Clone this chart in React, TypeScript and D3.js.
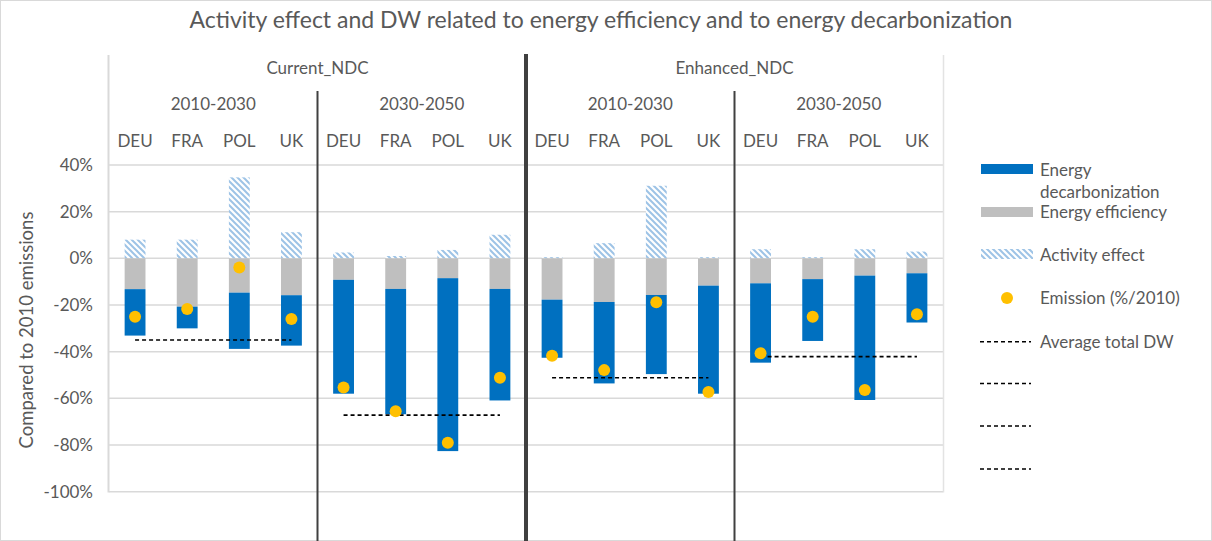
import React from "react";
import * as d3 from "d3";

const scenarios = ["Current_NDC", "Enhanced_NDC"];
const periods = ["2010-2030", "2030-2050"];
const countries = ["DEU", "FRA", "POL", "UK"];

// order: Current 2010-2030, Current 2030-2050, Enhanced 2010-2030, Enhanced 2030-2050 ; each DEU, FRA, POL, UK
const activity = [8, 8, 34.7, 11.2, 2.5, 1, 3.6, 10.1, 0.5, 6.5, 31.1, 0.5, 3.9, 0.5, 3.9, 2.9];
const efficiency = [-13.2, -20.7, -14.7, -15.8, -9.2, -13.1, -8.5, -13.1, -17.7, -18.7, -15.7, -11.7, -10.7, -8.9, -7.4, -6.4];
const decarbonization = [-19.9, -9.3, -24.1, -21.6, -48.8, -53.7, -74.1, -47.8, -24.9, -34.9, -33.9, -46.3, -34, -26.5, -53.3, -21.1];
const emission = [-25, -21.7, -3.9, -26, -55.3, -65.5, -79, -51.2, -41.7, -47.9, -18.8, -57.3, -40.7, -25, -56.4, -24];
const avgTotalDW = [-35, -67.2, -51.2, -42.1];
const yTicks = [40, 20, 0, -20, -40, -60, -80, -100];

const W = 1212;
const H = 541;
const FONT = "Lato, 'Open Sans', sans-serif";
const TXT = "#595959";

export default function App() {
  const keys: string[] = [];
  scenarios.forEach((s) => periods.forEach((p) => countries.forEach((c) => keys.push(`${s}|${p}|${c}`))));

  const x = d3.scaleBand<string>().domain(keys).range([109, 943]).paddingInner(0.6).paddingOuter(0.3);
  const step = x.step();
  const y = d3.scaleLinear().domain([-100, 40]).range([491.7, 165]);
  const bw = x.bandwidth();

  const groupStart = (g: number) => 109 + g * 4 * step;
  const groupCenter = (g: number) => groupStart(g) + 2 * step;

  return (
    <svg width={W} height={H} style={{ position: "absolute", left: 0, top: 0, background: "#fff" }} fontFamily={FONT}>
      <defs>
        <pattern id="hatch" patternUnits="userSpaceOnUse" width="6" height="6">
          <rect width="6" height="6" fill="#fff" />
          <path d="M-1,-1 L7,7 M-1,5 L1,7 M5,-1 L7,1" stroke="#9DC3E6" strokeWidth="2" />
        </pattern>
      </defs>
      <rect x={0.5} y={0.5} width={W - 1} height={H - 1} fill="#fff" stroke="#d9d9d9" />

      <text x={601} y={28} textAnchor="middle" fontSize={23} fill={TXT}>
        Activity effect and DW related to energy efficiency and to energy decarbonization
      </text>

      {/* gridlines */}
      {yTicks.map((t) => (
        <line key={t} x1={109} x2={943} y1={y(t)} y2={y(t)} stroke="#d9d9d9" strokeWidth={1.5} />
      ))}
      {/* plot side lines */}
      <line x1={108.5} x2={108.5} y1={55} y2={492.5} stroke="#d9d9d9" strokeWidth={2} />
      <line x1={943.5} x2={943.5} y1={55} y2={492.5} stroke="#e3e3e3" strokeWidth={1.5} />

      {/* y tick labels */}
      {yTicks.map((t) => (
        <text key={t} x={93} y={y(t) + 6} textAnchor="end" fontSize={17} fill={TXT}>
          {`${t}%`}
        </text>
      ))}
      <text transform={`translate(33,${330}) rotate(-90)`} textAnchor="middle" fontSize={18.5} fill={TXT}>
        Compared to 2010 emissions
      </text>

      {/* bars */}
      {keys.map((k, i) => {
        const x0 = x(k)!;
        const eff = efficiency[i];
        const dec = decarbonization[i];
        return (
          <g key={k}>
            <rect x={x0} width={bw} y={y(activity[i])} height={y(0) - y(activity[i])} fill="url(#hatch)" />
            <rect x={x0} width={bw} y={y(0)} height={y(eff) - y(0)} fill="#BFBFBF" />
            <rect x={x0} width={bw} y={y(eff)} height={y(eff + dec) - y(eff)} fill="#0070C0" />
          </g>
        );
      })}

      {/* average total DW */}
      {avgTotalDW.map((v, g) => {
        const k0 = keys[g * 4];
        const k3 = keys[g * 4 + 3];
        return (
          <line
            key={g}
            x1={x(k0)! + bw / 2}
            x2={x(k3)! + bw / 2}
            y1={y(v)}
            y2={y(v)}
            stroke="#000"
            strokeWidth={1.6}
            strokeDasharray="4,3"
          />
        );
      })}

      {/* emission dots */}
      {keys.map((k, i) => (
        <circle key={k} cx={x(k)! + bw / 2} cy={y(emission[i])} r={6} fill="#FFC000" />
      ))}

      {/* separators */}
      <line x1={groupStart(1)} x2={groupStart(1)} y1={91} y2={H} stroke="#404040" strokeWidth={2} />
      <line x1={groupStart(3)} x2={groupStart(3)} y1={91} y2={H} stroke="#404040" strokeWidth={2} />
      <line x1={groupStart(2)} x2={groupStart(2)} y1={54} y2={H} stroke="#404040" strokeWidth={4} />

      {/* header labels */}
      {scenarios.map((s, si) => (
        <text key={s} x={(groupStart(si * 2) + groupStart(si * 2 + 2)) / 2} y={74} textAnchor="middle" fontSize={17} fill={TXT}>
          {s}
        </text>
      ))}
      {[0, 1, 2, 3].map((g) => (
        <text key={g} x={groupCenter(g)} y={110} textAnchor="middle" fontSize={17} fill={TXT}>
          {periods[g % 2]}
        </text>
      ))}
      {keys.map((k, i) => (
        <text key={k} x={x(k)! + bw / 2} y={147} textAnchor="middle" fontSize={17} fill={TXT}>
          {countries[i % 4]}
        </text>
      ))}

      {/* legend */}
      <g fontSize={17} fill={TXT}>
        <rect x={981} y={164} width={52} height={10} fill="#0070C0" />
        <text x={1040} y={176}>Energy</text>
        <text x={1040} y={198}>decarbonization</text>
        <rect x={981} y={207} width={52} height={10} fill="#BFBFBF" />
        <text x={1040} y={218}>Energy efficiency</text>
        <rect x={981} y={249} width={52} height={10} fill="url(#hatch)" />
        <text x={1040} y={261}>Activity effect</text>
        <circle cx={1007} cy={298} r={6} fill="#FFC000" />
        <text x={1040} y={304}>Emission (%/2010)</text>
        {[341.7, 383.5, 426, 469].map((ly, i) => (
          <line key={i} x1={980} x2={1031} y1={ly} y2={ly} stroke="#000" strokeWidth={1.6} strokeDasharray="4,3" />
        ))}
        <text x={1040} y={347.5}>Average total DW</text>
      </g>
    </svg>
  );
}
